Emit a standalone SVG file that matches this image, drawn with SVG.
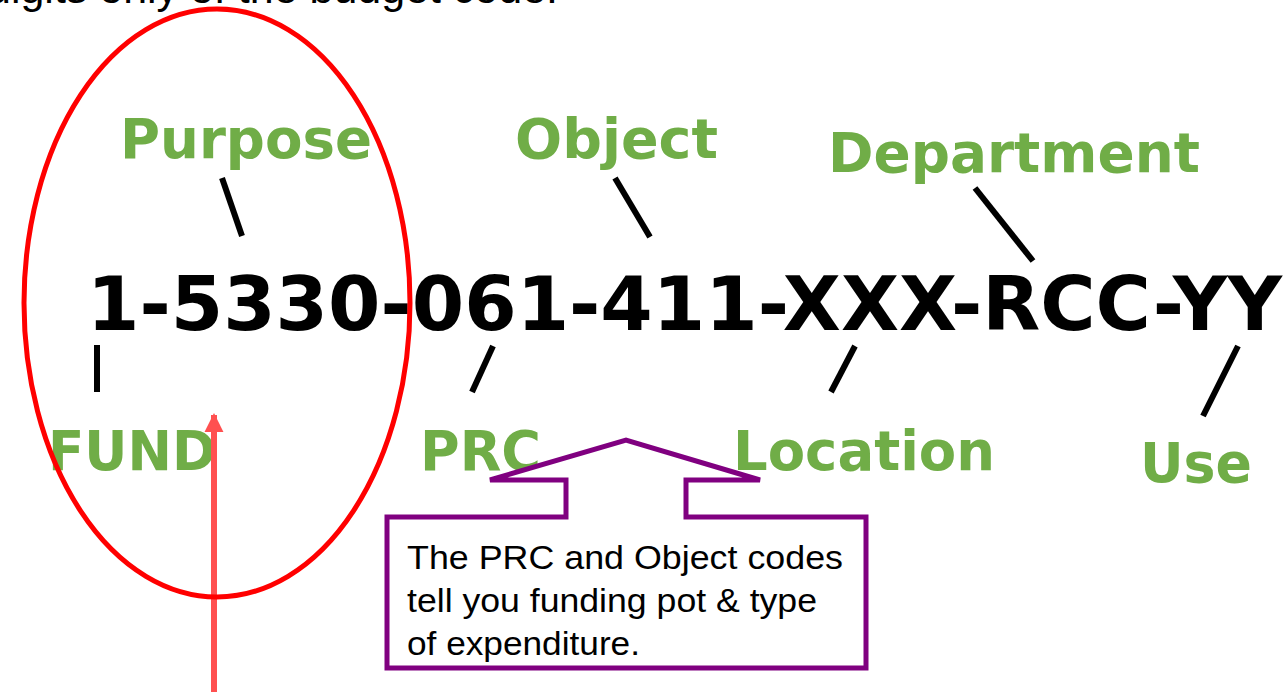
<svg xmlns="http://www.w3.org/2000/svg" width="1286" height="692" viewBox="0 0 1286 692">
<style>
.lbl{font-family:"DejaVu Sans",Verdana,sans-serif;font-weight:bold;font-size:55px;fill:#70AD47}
.code{font-family:"DejaVu Sans",Verdana,sans-serif;font-weight:bold;font-size:74px;fill:#000}
.tick{stroke:#000;stroke-width:6;fill:none}
.note{font-family:"Liberation Sans",Arial,sans-serif;font-size:33px;fill:#000}
</style>
<defs>
<marker id="ah" viewBox="0 0 10 10" refX="9" refY="5" markerWidth="3.2" markerHeight="3.2" orient="auto" markerUnits="strokeWidth">
<path d="M0,0 L10,5 L0,10 z" fill="#FF5050"/>
</marker>
</defs>
<rect width="1286" height="692" fill="#fff"/>
<text x="-13" y="3" font-family="Liberation Sans,Arial,sans-serif" font-size="43" fill="#000" textLength="571" lengthAdjust="spacingAndGlyphs">digits only of the budget code.</text>
<g id="code"><text class="code" x="87" y="330" textLength="1195" lengthAdjust="spacingAndGlyphs">1-5330-061-411-XXX-RCC-YY</text></g>
<g id="purpose"><text class="lbl" x="120" y="158" textLength="252" lengthAdjust="spacingAndGlyphs">Purpose</text></g>
<g id="object"><text class="lbl" x="515" y="158" textLength="203" lengthAdjust="spacingAndGlyphs">Object</text></g>
<g id="department"><text class="lbl" x="828" y="172" textLength="372" lengthAdjust="spacingAndGlyphs">Department</text></g>
<g id="fund"><text class="lbl" x="48" y="470" textLength="168" lengthAdjust="spacingAndGlyphs">FUND</text></g>
<g id="prc"><text class="lbl" x="420" y="470" textLength="121" lengthAdjust="spacingAndGlyphs">PRC</text></g>
<g id="location"><text class="lbl" x="733" y="470" textLength="262" lengthAdjust="spacingAndGlyphs">Location</text></g>
<g id="use"><text class="lbl" x="1140" y="482" textLength="112" lengthAdjust="spacingAndGlyphs">Use</text></g>
<g id="connectors">
<line class="tick" x1="222" y1="178" x2="242" y2="236"/>
<line class="tick" x1="615" y1="178" x2="650" y2="237"/>
<line class="tick" x1="975" y1="188" x2="1033" y2="261"/>
<line class="tick" x1="97" y1="345" x2="97" y2="392"/>
<line class="tick" x1="493" y1="346" x2="472" y2="392"/>
<line class="tick" x1="855" y1="346" x2="831" y2="392"/>
<line class="tick" x1="1238" y1="346" x2="1203" y2="416"/>
<line x1="214" y1="692" x2="214" y2="415" stroke="#FF5050" stroke-width="6" marker-end="url(#ah)"/>
</g>
<g id="fund-ellipse"><ellipse cx="217" cy="303" rx="193" ry="294" fill="none" stroke="#FF0000" stroke-width="5"/></g>
<g id="callout">
<polygon points="387,517 566,517 566,480 490,480 626,440 760,480 686,480 686,517 866,517 866,668 387,668" fill="#fff" stroke="#800080" stroke-width="5"/>
<text class="note" x="407" y="569" textLength="436" lengthAdjust="spacingAndGlyphs">The PRC and Object codes</text>
<text class="note" x="407" y="612" textLength="410" lengthAdjust="spacingAndGlyphs">tell you funding pot &amp; type</text>
<text class="note" x="407" y="655" textLength="233" lengthAdjust="spacingAndGlyphs">of expenditure.</text>
</g>
</svg>
